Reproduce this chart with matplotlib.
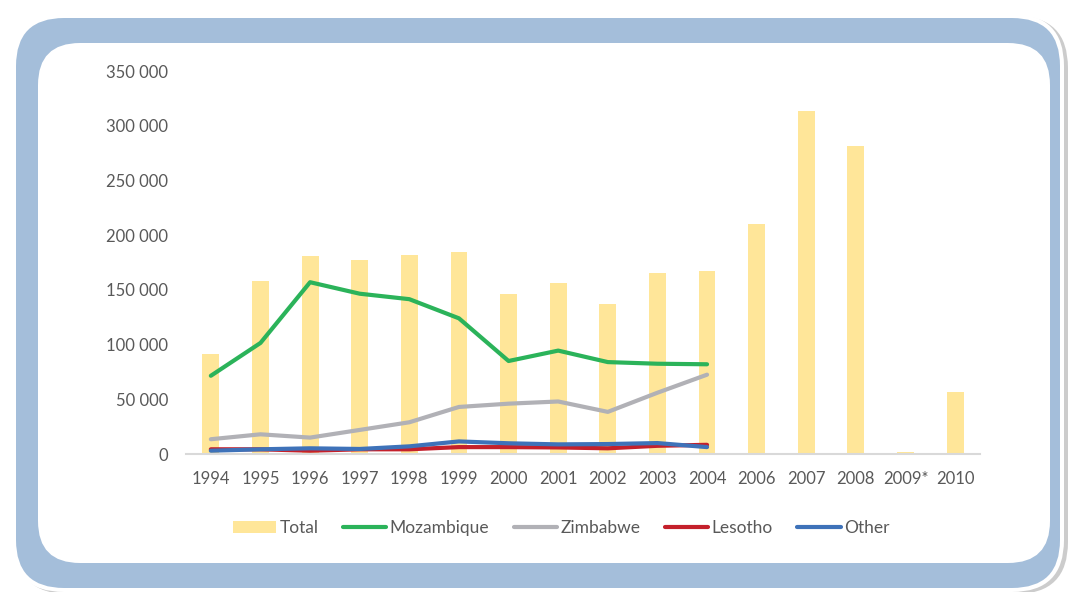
import matplotlib.pyplot as plt
import numpy as np
from matplotlib.patches import FancyBboxPatch, Patch
from matplotlib.lines import Line2D

# data
years = ['1994', '1995', '1996', '1997', '1998', '1999', '2000', '2001', '2002',
         '2003', '2004', '2006', '2007', '2008', '2009*', '2010']
total = [91500, 158000, 181000, 177000, 182000, 184500, 146000, 156500, 137000,
         165000, 167500, 210500, 313500, 281500, 1800, 56500]
mozambique = [71500, 101500, 157000, 146500, 141500, 124000, 85000, 94500, 84000,
              82500, 82000]
zimbabwe = [13500, 18000, 15000, 22000, 29000, 43000, 46000, 48000, 38500, 56000, 72500]
lesotho = [4300, 4300, 3000, 4300, 4300, 6300, 6300, 6000, 5200, 7500, 8400]
other = [3000, 4300, 5200, 4600, 7000, 11500, 9800, 8800, 9100, 10000, 6300]

yellow = '#FFE699'
green = '#2BB35A'
grey = '#B1B1B6'
red = '#C4202B'
blue = '#3E72B9'
txt = '#595959'

plt.rcParams['font.family'] = ['Lato', 'DejaVu Sans']

fig = plt.figure(figsize=(10.71, 5.92), dpi=100)

# rounded frame (in inches)
def box(x0, y0, w, h, r, color, z, alpha=1.0):
    p = FancyBboxPatch((x0, y0), w, h, boxstyle=f'round,pad=0,rounding_size={r}',
                       transform=fig.dpi_scale_trans, facecolor=color,
                       edgecolor='none', zorder=z, alpha=alpha)
    fig.add_artist(p)

box(0.16, -0.02, 10.52, 5.78, 0.52, '#9A9A9A', -5, 0.5)
box(0.12, 0.0, 10.52, 5.78, 0.52, 'white', -4)
box(0.16, 0.04, 10.44, 5.70, 0.48, '#A4BEDA', -3)
box(0.38, 0.29, 10.12, 5.20, 0.42, 'white', -2)

ax = fig.add_axes([0.1737, 0.2331, 0.915 - 0.1737, 0.880 - 0.2331])
ax.patch.set_visible(False)

x = np.arange(len(years))
ax.bar(x, total, width=0.34, color=yellow, zorder=1)
xl = x[:len(mozambique)]
ax.plot(xl, mozambique, color=green, lw=3, zorder=2, solid_capstyle='round')
ax.plot(xl, zimbabwe, color=grey, lw=3, zorder=2, solid_capstyle='round')
ax.plot(xl, lesotho, color=red, lw=3, zorder=2, solid_capstyle='round')
ax.plot(xl, other, color=blue, lw=3, zorder=2, solid_capstyle='round')

ax.set_xlim(-0.5, len(years) - 0.5)
ax.set_ylim(0, 350000)
ax.set_yticks(np.arange(0, 350001, 50000))
ax.set_yticklabels(['0' if v == 0 else f'{v // 1000} 000' for v in range(0, 350001, 50000)])
ax.set_xticks(x)
ax.set_xticklabels(years)
ax.tick_params(axis='both', length=0, labelsize=12, colors=txt)
ax.tick_params(axis='x', pad=12)
ax.tick_params(axis='y', pad=13)
for s in ['top', 'right', 'left']:
    ax.spines[s].set_visible(False)
ax.spines['bottom'].set_color('#D9D9D9')
ax.spines['bottom'].set_linewidth(1.5)

handles = [Patch(facecolor=yellow, edgecolor='none'),
           Line2D([], [], color=green, lw=3, solid_capstyle='round'),
           Line2D([], [], color=grey, lw=3, solid_capstyle='round'),
           Line2D([], [], color=red, lw=3, solid_capstyle='round'),
           Line2D([], [], color=blue, lw=3, solid_capstyle='round')]
labels = ['Total', 'Mozambique', 'Zimbabwe', 'Lesotho', 'Other']
leg = fig.legend(handles, labels, loc='center', bbox_to_anchor=(0.524, 0.108),
                 ncol=5, frameon=False, fontsize=12.5, handlelength=2.5,
                 handleheight=0.72, columnspacing=1.4, handletextpad=0.2)
for t in leg.get_texts():
    t.set_color(txt)

fig.savefig('out.png', dpi=100)
